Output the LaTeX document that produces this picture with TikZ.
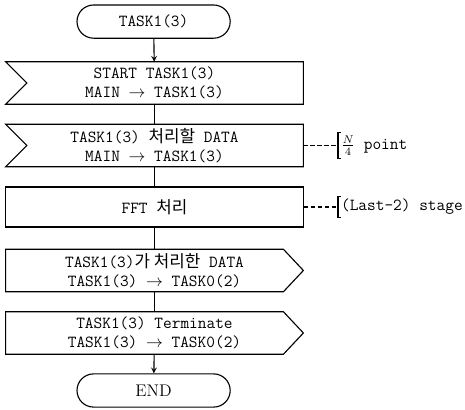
\documentclass[tikz,border=0pt]{standalone}
\usepackage{fontspec}
\newfontfamily\krfont{Noto Sans CJK KR}
\usepackage{amsmath}
\usepackage{tikz}
\usetikzlibrary{positioning, arrows, shapes.misc}

\begin{document}
\begin{tikzpicture}[font=\fontsize{12}{13.5}\selectfont\ttfamily]
		\tikzstyle{terminal} = [rounded rectangle, draw, thick, minimum width=3.83cm, minimum height=0.83cm, inner sep=0]
		\tikzstyle{box} = [rectangle, minimum width=7.43cm, minimum height=1.05cm, inner sep=0, align=center]
		\tikzstyle{proc} = [box, draw, thick, minimum height=1cm]
		\tikzstyle{stealth} = [-stealth, thick]
		\tikzstyle{note} = [anchor=west, inner sep=2pt]
		\tikzstyle{dash_line} = [thick, dash pattern=on 3pt off 2pt]
		\useasboundingbox (0,0) rectangle (11.625,10.25);
		\node [terminal] (v0) at (3.84,9.71) {TASK1(3)};
		\node [box] (v1) at (3.8625,8.175) {START TASK1(3)\\MAIN $\rightarrow$ TASK1(3)};
		\node [box] (v2) at (3.8625,6.6125) {TASK1(3) {\krfont 처리할} DATA\\MAIN $\rightarrow$ TASK1(3)};
		\node [proc] (v3) at (3.8625,5.075) {FFT {\krfont 처리}};
		\node [box] (v4) at (3.8625,3.4875) {TASK1(3){\krfont 가\ 처리한} DATA\\TASK1(3) $\rightarrow$ TASK0(2)};
		\node [box] (v5) at (3.8625,1.925) {TASK1(3) Terminate\\TASK1(3) $\rightarrow$ TASK0(2)};
		\node [terminal] (v6) at (3.84,0.4875) {\rmfamily END};
		\draw [thick] (v1.north west) -- (v1.north east) -- (v1.south east) -- (v1.south west) -- ([xshift=0.53cm]v1.west) -- cycle;
		\draw [thick] (v2.north west) -- (v2.north east) -- (v2.south east) -- (v2.south west) -- ([xshift=0.53cm]v2.west) -- cycle;
		\draw [thick] (v4.north west) -- ([xshift=-0.5cm]v4.north east) -- (v4.east) -- ([xshift=-0.5cm]v4.south east) -- (v4.south west) -- cycle;
		\draw [thick] (v5.north west) -- ([xshift=-0.5cm]v5.north east) -- (v5.east) -- ([xshift=-0.5cm]v5.south east) -- (v5.south west) -- cycle;
		\draw [stealth] (v0) edge (v1);
		\draw [thick] (v1) edge (v2);
		\draw [thick] (v2) edge (v3);
		\draw [thick] (v3) edge (v4);
		\draw [thick] (v4) edge (v5);
		\draw [stealth] (v5) edge (v6);
		\node [note] (a1) at (8.45,6.6125) {$\frac{N}{4}$\ point};
		\node [note] (a2) at (8.45,5.075) {(Last-2) stage};
		\draw [dash_line] (v2.east) edge (a1.west);
		\draw [dash_line] (v3.east) edge (a2.west);
		\draw [thick] ([xshift=2pt]a1.north west) -- (a1.north west) -- (a1.south west) -- ([xshift=2pt]a1.south west);
		\draw [thick] ([xshift=2pt]a2.north west) -- (a2.north west) -- (a2.south west) -- ([xshift=2pt]a2.south west);
\end{tikzpicture}
\end{document}
